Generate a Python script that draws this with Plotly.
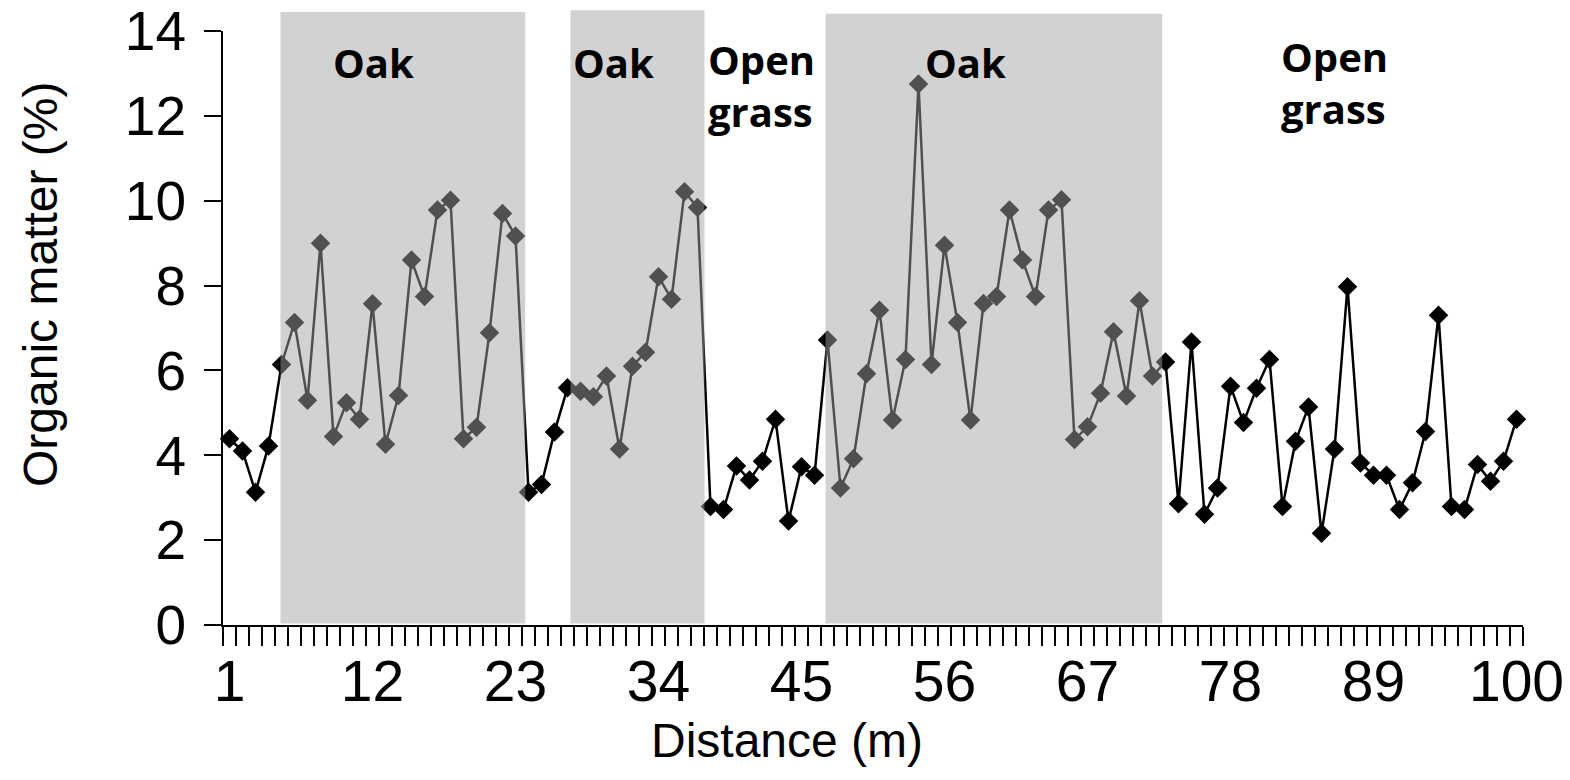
import plotly.graph_objects as go

distance = list(range(1, 101))
organic_matter = [
    4.39, 4.10, 3.13, 4.22, 6.14, 7.13, 5.30, 9.00, 4.44, 5.24,
    4.85, 7.57, 4.26, 5.41, 8.60, 7.74, 9.78, 10.01, 4.39, 4.66,
    6.89, 9.70, 9.17, 3.13, 3.31, 4.55, 5.59, 5.51, 5.38, 5.87,
    4.15, 6.10, 6.43, 8.21, 7.68, 10.21, 9.84, 2.79, 2.72, 3.75,
    3.42, 3.86, 4.85, 2.45, 3.73, 3.53, 6.72, 3.23, 3.92, 5.92,
    7.42, 4.83, 6.26, 12.75, 6.14, 8.95, 7.13, 4.83, 7.58, 7.74,
    9.78, 8.60, 7.74, 9.78, 10.02, 4.37, 4.67, 5.46, 6.91, 5.40,
    7.64, 5.87, 6.20, 2.86, 6.67, 2.61, 3.23, 5.63, 4.77, 5.58,
    6.26, 2.79, 4.33, 5.14, 2.16, 4.15, 7.97, 3.82, 3.53, 3.53,
    2.72, 3.35, 4.56, 7.30, 2.79, 2.72, 3.78, 3.39, 3.86, 4.85,
]
tick_values = [1, 12, 23, 34, 45, 56, 67, 78, 89, 100]
tick_labels = [str(v) for v in tick_values]

# oak zones (start, end, top in paper units)
oak_starts = [4.92, 27.23, 46.85]
oak_ends = [23.75, 37.54, 72.75]
oak_tops = [1.032, 1.035, 1.029]

zone_labels = ["Oak", "Oak", "Open<br>grass", "Oak", "Open<br>grass"]
zone_label_x = [12.1, 30.5, 41.9, 57.6, 86.0]
zone_label_y = [13.25, 13.25, 12.72, 13.25, 12.78]

# page has an 8px body margin; figure sized so the plot lands where wanted
PAD = 8
W, H = 1570 - PAD, 780 - PAD
L, R, T, B = 215, 47, 23, 155
pw, ph = W - L - R, H - T - B

fig = go.Figure()
fig.add_trace(go.Scatter(
    x=distance, y=organic_matter, mode="lines+markers",
    line=dict(color="black", width=2.5),
    marker=dict(symbol="diamond", size=15, color="black"),
    showlegend=False, cliponaxis=False,
))

shapes = []
for x0, x1, top in zip(oak_starts, oak_ends, oak_tops):
    shapes.append(dict(
        type="rect", xref="x", yref="paper", x0=x0, x1=x1, y0=0.0025, y1=top,
        fillcolor="rgb(164,164,164)", opacity=0.49, line=dict(width=0),
        layer="above",
    ))

annotations = []
for t, ax, ay in zip(zone_labels, zone_label_x, zone_label_y):
    annotations.append(dict(
        text=t, x=ax, y=ay, xref="x", yref="y", showarrow=False,
        xanchor="center", yanchor="middle",
        font=dict(family="Open Sans", size=40, color="black", weight="bold"),
        align="left",
    ))
annotations.append(dict(
    text="Distance (m)", xref="paper", yref="paper", showarrow=False,
    x=(787 - PAD - L) / pw, y=(H - B - (740 - PAD)) / ph,
    xanchor="center", yanchor="middle",
    font=dict(family="Liberation Sans, Arial", size=48, color="black"),
))
annotations.append(dict(
    text="Organic matter (%)", xref="paper", yref="paper", showarrow=False,
    x=(40 - PAD - L) / pw, y=(H - B - (285 - PAD)) / ph, textangle=-90,
    xanchor="center", yanchor="middle",
    font=dict(family="Liberation Sans, Arial", size=48, color="black"),
))

fig.update_layout(
    width=W, height=H,
    margin=dict(l=L, r=R, t=T, b=B, autoexpand=False),
    plot_bgcolor="white", paper_bgcolor="white",
    shapes=shapes, annotations=annotations,
    font=dict(family="Liberation Sans, Arial", color="black"),
    xaxis=dict(
        range=[0.5, 100.5], tickmode="array", tickvals=tick_values,
        ticktext=tick_labels, ticks="", showgrid=False, zeroline=False,
        showline=True, linecolor="black", linewidth=2, automargin=False,
        tickfont=dict(size=57), ticklabelstandoff=6, ticklabeloverflow="allow",
        minor=dict(ticks="outside", tickmode="linear", tick0=0.5, dtick=1,
                   ticklen=19, tickwidth=2, tickcolor="black", showgrid=False),
    ),
    yaxis=dict(
        range=[0, 14], tickmode="linear", tick0=0, dtick=2,
        ticks="outside", ticklen=17, tickwidth=2, tickcolor="black",
        showgrid=False, zeroline=False, showline=True, linecolor="black",
        linewidth=2, tickfont=dict(size=55), ticklabelstandoff=7,
        ticklabeloverflow="allow", automargin=False,
    ),
)

fig.write_html("out.html")
